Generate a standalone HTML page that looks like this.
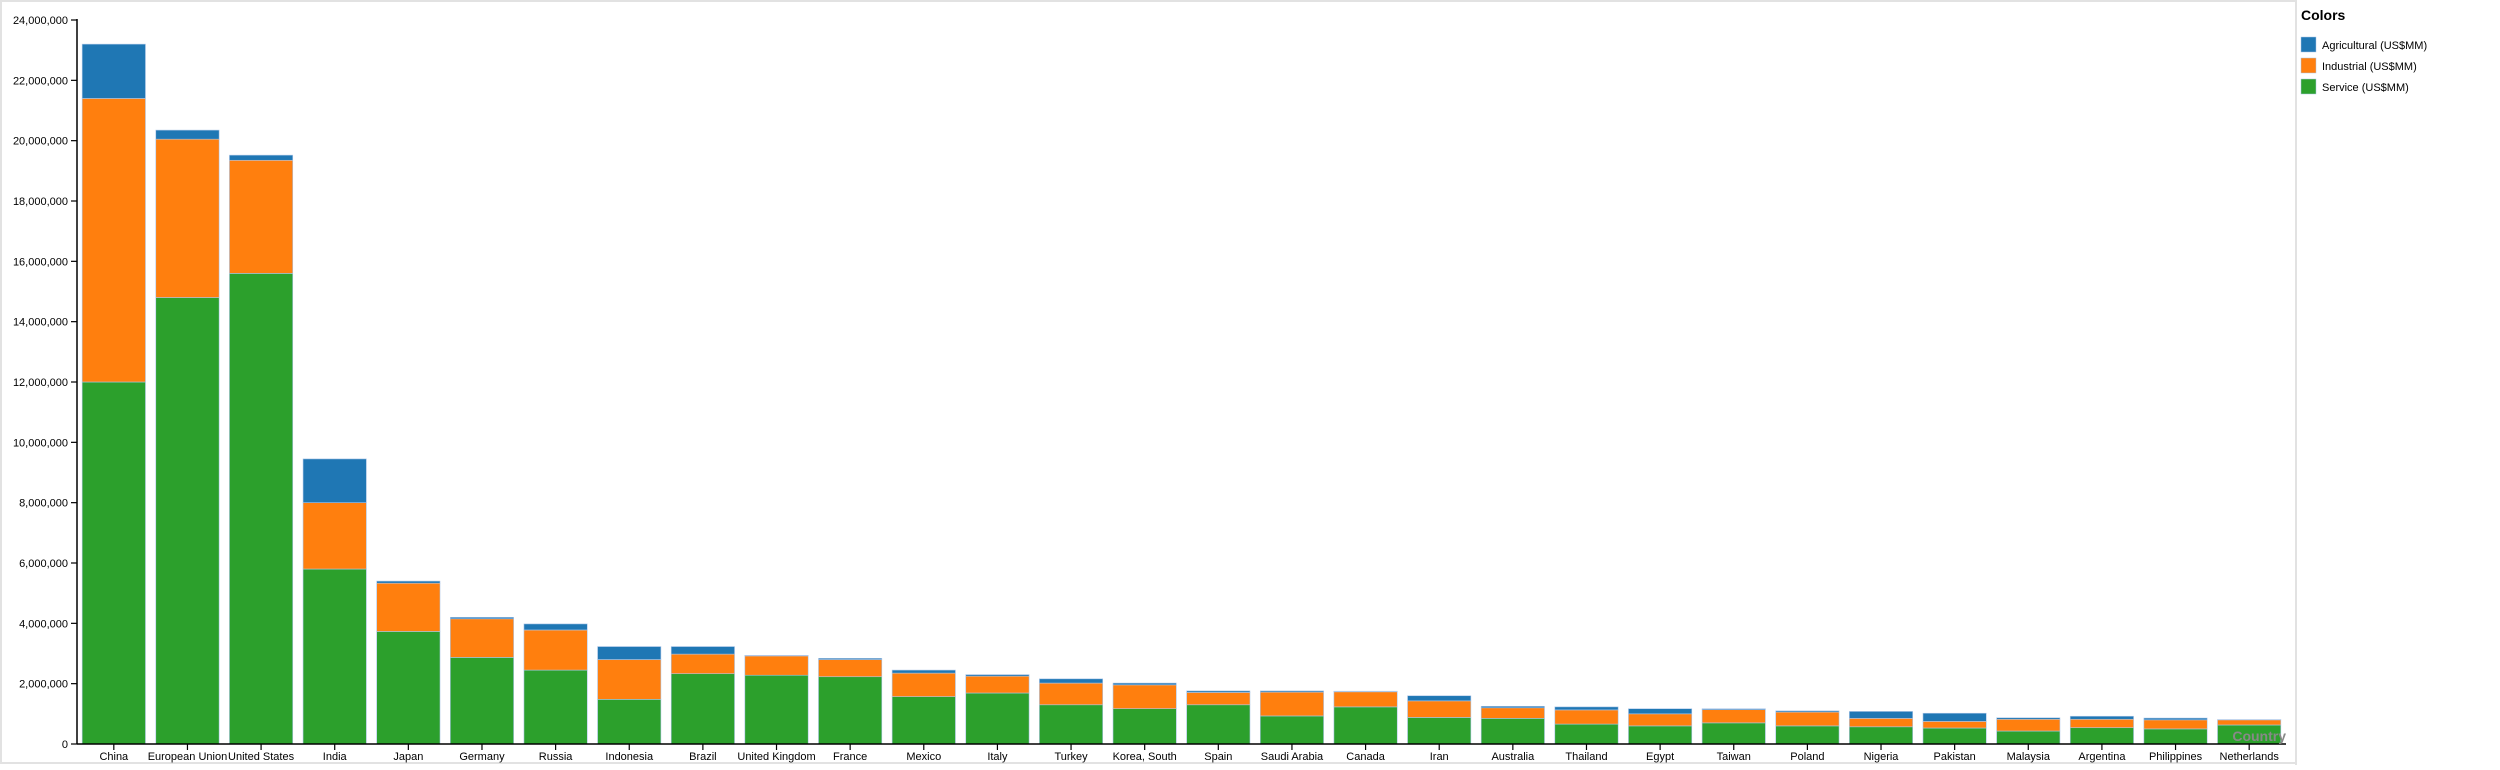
<!DOCTYPE html>
<html><head><meta charset="utf-8">
<style>
html,body{margin:0;padding:0;background:#fff;}
body{width:2500px;height:765px;overflow:hidden;font-family:"Liberation Sans",Arial,sans-serif;}
svg text{font-family:"Liberation Sans",Arial,sans-serif;}
</style></head>
<body>
<svg id="chart" width="2500" height="765" xmlns="http://www.w3.org/2000/svg">
  <rect x="1" y="1" width="2295" height="762" fill="#fff" stroke="#e2e2e2" stroke-width="2"/>
  <line x1="2296" y1="0" x2="2296" y2="765" stroke="#e2e2e2" stroke-width="2"/>
  <g id="plot"></g>
  <g id="legend">
    <text x="2301" y="20" font-size="14" font-weight="bold" fill="#000">Colors</text>
    <rect x="2301" y="37" width="15" height="15" fill="#1f77b4" stroke="#aec7e8" stroke-width="0.5"/>
    <text x="2322" y="49" font-size="11" fill="#000">Agricultural (US$MM)</text>
    <rect x="2301" y="58" width="15" height="15" fill="#ff7f0e" stroke="#aec7e8" stroke-width="0.5"/>
    <text x="2322" y="70" font-size="11" fill="#000">Industrial (US$MM)</text>
    <rect x="2301" y="79" width="15" height="15" fill="#2ca02c" stroke="#aec7e8" stroke-width="0.5"/>
    <text x="2322" y="91" font-size="11" fill="#000">Service (US$MM)</text>
  </g>
</svg>
<script>
const categories = ["China","European Union","United States","India","Japan","Germany","Russia","Indonesia","Brazil","United Kingdom","France","Mexico","Italy","Turkey","Korea, South","Spain","Saudi Arabia","Canada","Iran","Australia","Thailand","Egypt","Taiwan","Poland","Nigeria","Pakistan","Malaysia","Argentina","Philippines","Netherlands"];
const service = [12.0,14.8,15.6,5.8,3.73,2.87,2.45,1.48,2.33,2.28,2.23,1.57,1.69,1.3,1.17,1.3,0.93,1.23,0.88,0.85,0.66,0.6,0.7,0.6,0.57,0.53,0.43,0.54,0.5,0.63];
const industrial = [9.4,5.25,3.75,2.2,1.6,1.28,1.33,1.32,0.65,0.64,0.57,0.78,0.56,0.72,0.79,0.41,0.79,0.5,0.55,0.35,0.47,0.4,0.44,0.46,0.28,0.22,0.39,0.28,0.3,0.17];
const agricultural = [1.8,0.3,0.17,1.45,0.07,0.05,0.2,0.43,0.25,0.02,0.04,0.1,0.05,0.14,0.06,0.05,0.04,0.02,0.17,0.05,0.1,0.17,0.03,0.04,0.23,0.27,0.05,0.1,0.06,0.01];
const yTicks = [0,2,4,6,8,10,12,14,16,18,20,22,24];

const NS = "http://www.w3.org/2000/svg";
const plot = document.getElementById('plot');
const X0 = 77, X1 = 2286, Y0 = 744, Y1 = 20, YMAX = 24;
const step = (X1 - X0) / categories.length;
const pad = 0.14 * step;
const bw = step - pad;
function y(v){ return Y0 - v / YMAX * (Y0 - Y1); }
function xb(i){ return X0 + i * step + pad / 2; }
function mk(tag, attrs){ const e = document.createElementNS(NS, tag); for (const k in attrs) e.setAttribute(k, attrs[k]); plot.appendChild(e); return e; }
function fmt(v){ return (v * 1000000).toLocaleString('en-US'); }

// bars
const series = [["service", service, "#2ca02c"], ["industrial", industrial, "#ff7f0e"], ["agricultural", agricultural, "#1f77b4"]];
categories.forEach((c, i) => {
  let base = 0;
  series.forEach(([name, arr, col]) => {
    const v = arr[i];
    const r = mk('rect', {x: xb(i), y: y(base + v), width: bw, height: y(base) - y(base + v), fill: col, stroke: '#aec7e8', 'stroke-width': 0.6});
    
    
    base += v;
  });
});

// y axis
const ya = mk('line', {x1: X0, y1: Y1 - 1, x2: X0, y2: Y0, stroke: '#000', 'stroke-width': 1.5});


yTicks.forEach(t => {
  const tk = mk('line', {x1: X0 - 6, y1: y(t), x2: X0, y2: y(t), stroke: '#000', 'stroke-width': 1.2});
  
  
  const tx = mk('text', {x: X0 - 9, y: y(t) + 4, 'text-anchor': 'end', 'font-size': 11, fill: '#000'});
  tx.textContent = fmt(t);
  
  
});

// x axis
const xa = mk('line', {x1: X0, y1: Y0, x2: X1, y2: Y0, stroke: '#000', 'stroke-width': 1.5});


categories.forEach((c, i) => {
  const cx = xb(i) + bw / 2;
  const tk = mk('line', {x1: cx, y1: Y0, x2: cx, y2: Y0 + 6, stroke: '#000', 'stroke-width': 1.2});
  
  
  const tx = mk('text', {x: cx, y: Y0 + 16, 'text-anchor': 'middle', 'font-size': 11, fill: '#000'});
  tx.textContent = c;
  
  
});
const xt = mk('text', {x: X1, y: Y0 - 3, 'text-anchor': 'end', 'font-size': 14, 'font-weight': 'bold', fill: '#888'});
xt.textContent = 'Country';


</script>
</body></html>
